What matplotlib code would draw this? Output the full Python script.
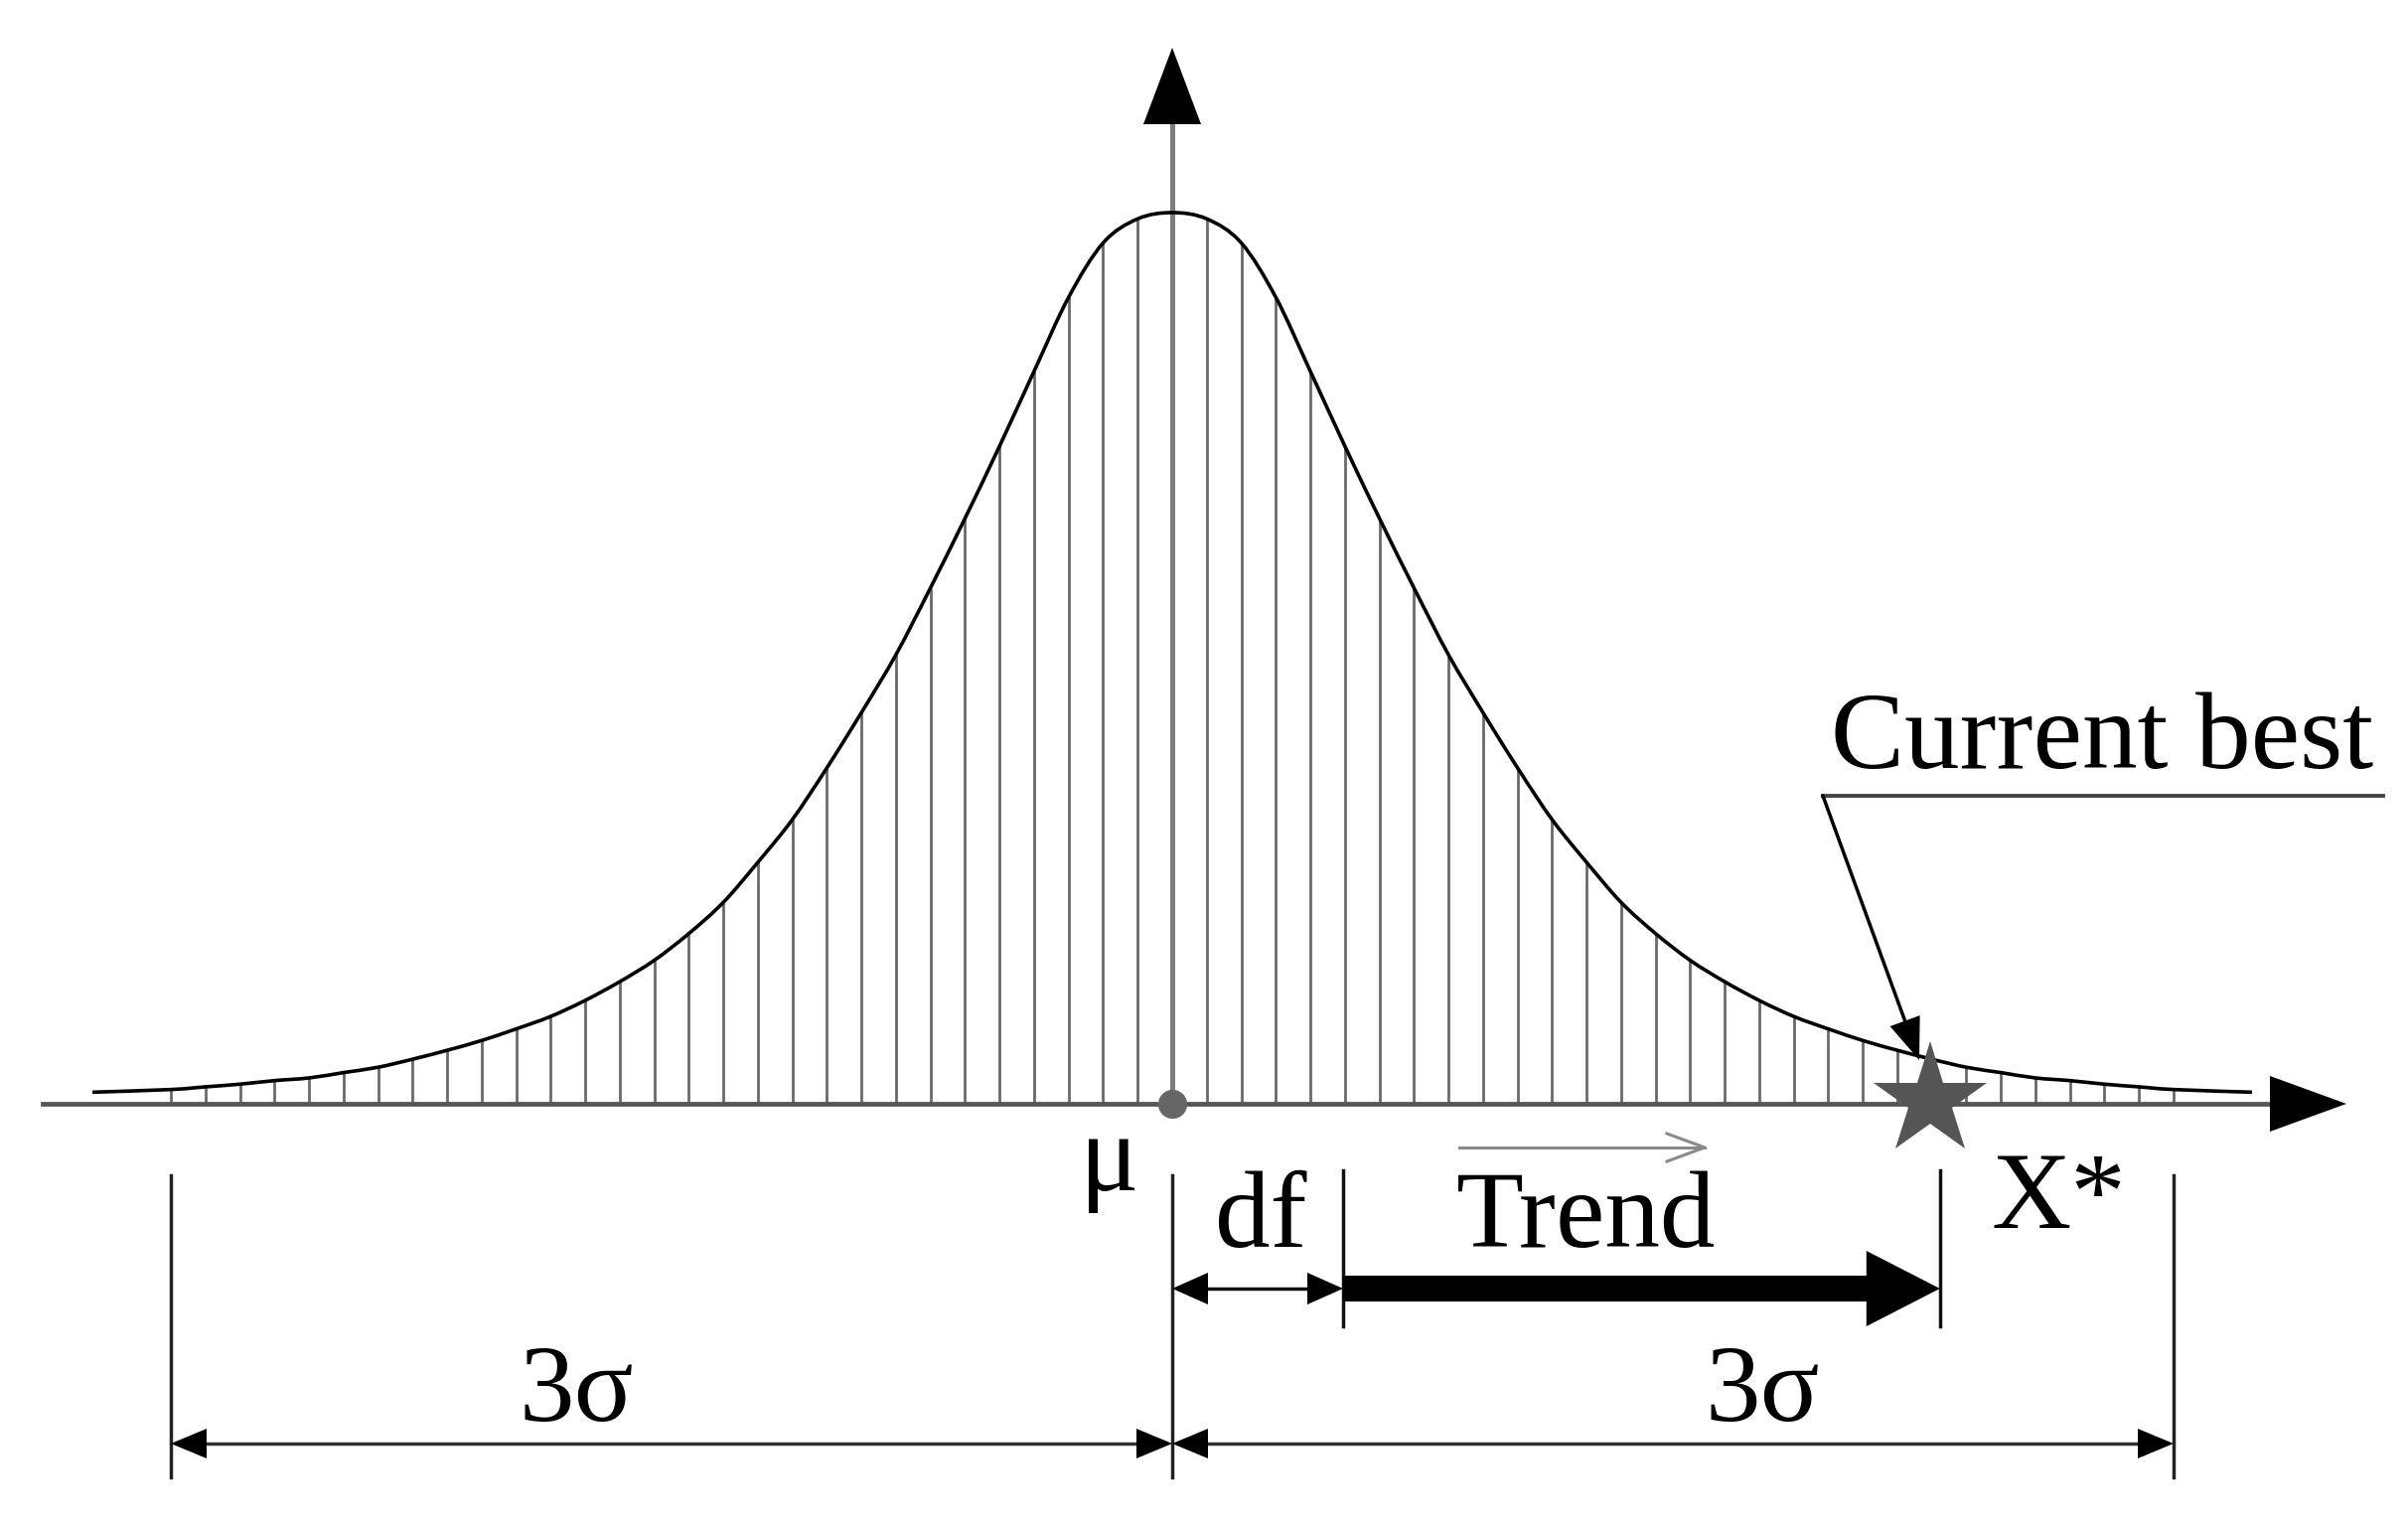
import numpy as np
import matplotlib
matplotlib.use("Agg")
import matplotlib.pyplot as plt
from matplotlib.path import Path
from matplotlib.patches import PathPatch

plt.rcParams['font.family'] = ['Liberation Serif', 'DejaVu Serif']

# curve height at each hatch line, right half (0 .. 3 sigma), relative to peak
# the curve is symmetric so left half is mirrored
density_right = [1.000, 0.993, 0.966, 0.905, 0.822, 0.738, 0.657, 0.579, 0.504, 0.439,
                 0.377, 0.319, 0.271, 0.226, 0.191, 0.161, 0.137, 0.116, 0.098, 0.084,
                 0.071, 0.060, 0.050, 0.041, 0.035, 0.029, 0.026, 0.022, 0.019, 0.016]
tail_end = 0.013          # height where the drawn curve stops
tail_x = 3.235            # in sigma
n_sigma = 3               # 3 sigma either side
x_best = 2.27             # current best, in sigma
x_best_dim = 2.30
x_df = 0.512

labels = {'mu': 'μ', 'df': 'df', 'trend': 'Trend', 'xstar': 'X*',
          'sig': '3σ', 'best': 'Current best'}

# ---- layout, 336 px per sigma, origin at the mean on the x axis
PX = 336.0
W, H = 2424, 1539
X0, Y0 = 1180, 1111


def px(v):
    return v / PX


def pt(X, Y):
    return (X - X0) / PX, (Y0 - Y) / PX


peak_h = px(897)

fig = plt.figure(figsize=(W / 100, H / 100), dpi=100)
ax = fig.add_axes([0, 0, 1, 1])
ax.set_xlim(-X0 / PX, (W - X0) / PX)
ax.set_ylim((Y0 - H) / PX, Y0 / PX)
ax.axis('off')


def head(tip, d, length, half, color='black', z=5):
    # filled triangular arrow head, d is a unit direction
    tx, ty = tip
    dx, dy = d
    bx, by = tx - dx * length, ty - dy * length
    nx, ny = -dy, dx
    ax.fill([tx, bx + nx * half, bx - nx * half], [ty, by + ny * half, by - ny * half],
            color=color, lw=0, zorder=z)


def smooth_path(xs, ys):
    # bezier path through the points (catmull-rom style handles), only for drawing
    p = np.column_stack([xs, ys])
    p = np.vstack([p[0], p, p[-1]])
    verts = [p[1]]
    codes = [Path.MOVETO]
    for i in range(1, len(p) - 2):
        c1 = p[i] + (p[i + 1] - p[i - 1]) / 6
        c2 = p[i + 1] - (p[i + 2] - p[i]) / 6
        verts += [c1, c2, p[i + 1]]
        codes += [Path.CURVE4] * 3
    return Path(verts, codes)


# hatch + curve
dens = np.array(density_right[:0:-1] + density_right)
hx = np.linspace(-n_sigma, n_sigma, len(dens))
hy = dens * peak_h
cx = np.concatenate([[-tail_x], hx, [tail_x]])
cy = np.concatenate([[tail_end * peak_h], hy, [tail_end * peak_h]])

ax.vlines(hx, 0, hy, color='#6a6a6a', lw=2.0, zorder=2)
ax.add_patch(PathPatch(smooth_path(cx, cy), fill=False, ec='black', lw=2.6,
                       zorder=3, joinstyle='round'))

# axes with arrows
xa0, _ = pt(43, 0)
xa_tip, _ = pt(2362, 0)
ax.plot([xa0, xa_tip - px(70)], [0, 0], color='#555555', lw=3.4, zorder=2.5)
head((xa_tip, 0), (1, 0), px(77), px(28))

_, ya_tip = pt(0, 48)
ax.plot([0, 0], [0, ya_tip - px(70)], color='#7d7d7d', lw=3.6, zorder=2.6)
head((0, ya_tip), (0, 1), px(77), px(29))

ax.plot([0], [0], 'o', ms=21, color='#666666', mew=0, zorder=6)

# current best star + label
ax.plot([x_best], [px(3)], marker='*', ms=86, color='#555555', mew=0, zorder=7)
ul_x0, ul_y = pt(1835, 801)
ul_x1, _ = pt(2399, 801)
ax.plot([ul_x0, ul_x1], [ul_y, ul_y], color='#444444', lw=2.8, zorder=4)
tipx, tipy = pt(1932, 1067)
d = np.array([tipx - ul_x0, tipy - ul_y])
d = d / np.hypot(*d)
ax.plot([ul_x0, tipx - d[0] * px(30)], [ul_y, tipy - d[1] * px(30)], color='black', lw=2.5, zorder=8)
head((tipx, tipy), d, px(42), px(16), z=8)
ax.text(*pt(1843, 773), labels['best'], fontsize=80, ha='left', va='baseline')

# extension lines under the axis
y_top = pt(0, 1183)[1]
y_long = pt(0, 1487)[1]
y_short = pt(0, 1335)[1]
for xv in (-n_sigma, 0, n_sigma):
    ax.plot([xv, xv], [y_top, y_long], color='#222222', lw=2.5)
for xv in (x_df, x_best_dim):
    ax.plot([xv, xv], [pt(0, 1178)[1], y_short], color='#111111', lw=2.5)

# df dimension + trend arrow
y_df = pt(0, 1297)[1]
ax.plot([px(30), x_df - px(30)], [y_df, y_df], color='#111111', lw=2.5)
head((0, y_df), (-1, 0), px(36), px(16))
head((x_df, y_df), (1, 0), px(36), px(16))
ax.plot([x_df, x_best_dim - px(70)], [y_df, y_df], color='black', lw=18.7,
        solid_capstyle='butt')
head((x_best_dim, y_df), (1, 0), px(74), px(38))

# small grey arrow above Trend
ty_ar = pt(0, 1155)[1]
ta0 = pt(1469, 0)[0]
ta1 = pt(1716, 0)[0]
ax.plot([ta0, ta1], [ty_ar, ty_ar], color='#8a8a8a', lw=2.2)
ax.plot([ta1 - px(38), ta1, ta1 - px(38)], [ty_ar + px(14), ty_ar, ty_ar - px(14)],
        color='#8a8a8a', lw=2.2)

# 3 sigma dimension lines
y_sig = pt(0, 1453)[1]
for a, b in ((-n_sigma, 0), (0, n_sigma)):
    ax.plot([a + px(30), b - px(30)], [y_sig, y_sig], color='#333333', lw=2.5)
    head((a, y_sig), (-1, 0), px(36), px(15))
    head((b, y_sig), (1, 0), px(36), px(15))

# labels
ax.text(*pt(1087, 1198), labels['mu'], fontsize=80, ha='left', va='baseline')
ax.text(*pt(1223, 1255), labels['df'], fontsize=80, ha='left', va='baseline')
ax.text(*pt(1466, 1255), labels['trend'], fontsize=80, ha='left', va='baseline')
ax.text(*pt(2005, 1236), labels['xstar'], fontsize=80, ha='left', va='baseline')
ax.text(pt(580, 0)[0], pt(0, 1430)[1], labels['sig'], fontsize=80, ha='center', va='baseline')
ax.text(pt(1774, 0)[0], pt(0, 1430)[1], labels['sig'], fontsize=80, ha='center', va='baseline')

fig.savefig('out.png', dpi=100, facecolor='white')
